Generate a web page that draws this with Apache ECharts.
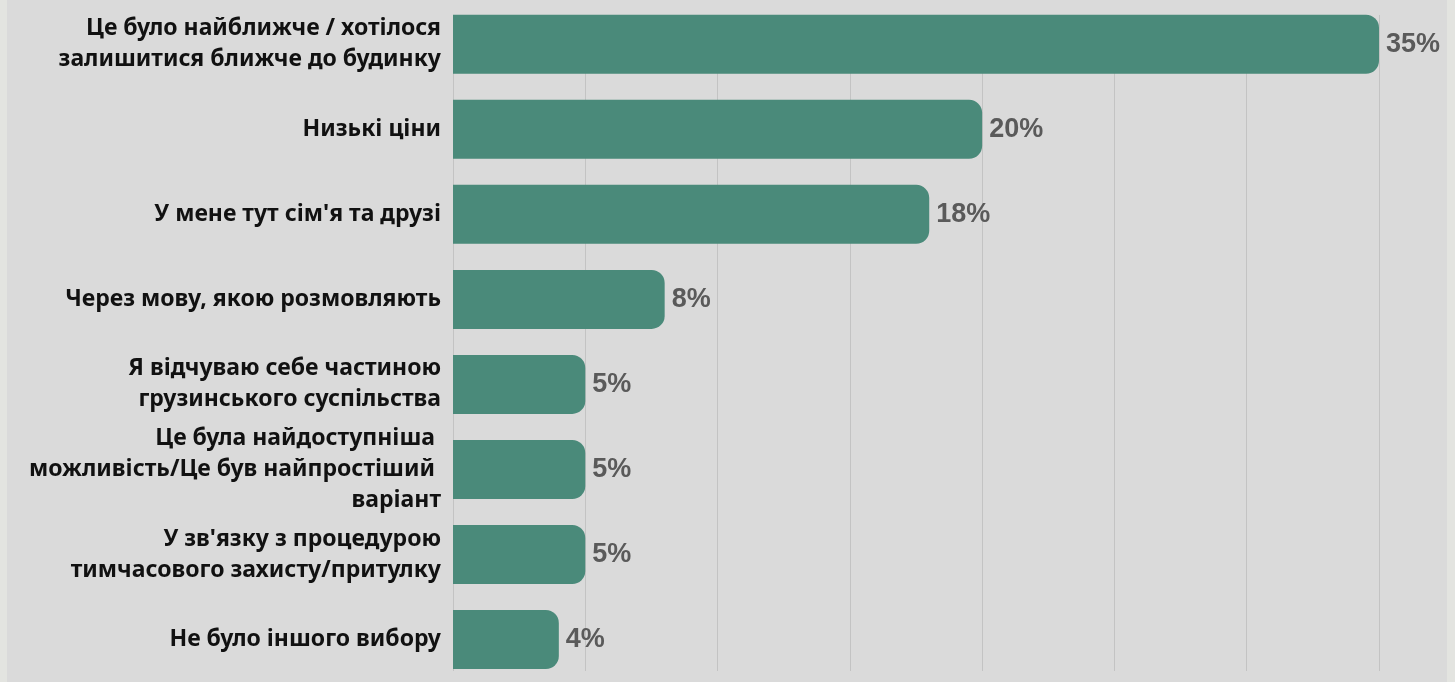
<!DOCTYPE html>
<html>
<head>
<meta charset="utf-8">
<script src="https://cdn.jsdelivr.net/npm/echarts@6/dist/echarts.min.js"></script>
<style>
  html, body { margin: 0; padding: 0; background: #e3e4e0; }
  #chart { position: absolute; left: 7px; top: 0; width: 1440px; height: 682px; background: #dadada; }
</style>
</head>
<body>
<div id="chart"></div>
<script>
// Reasons for choosing Georgia (share of respondents, %)
const categories = [
  'Це було найближче / хотілося\nзалишитися ближче до будинку',
  'Низькі ціни',
  "У мене тут сім'я та друзі",
  'Через мову, якою розмовляють',
  'Я відчуваю себе частиною\nгрузинського суспільства',
  'Це була найдоступніша \nможливість/Це був найпростіший \nваріант',
  "У зв'язку з процедурою\nтимчасового захисту/притулку",
  'Не було іншого вибору'
];
const values = [35, 20, 18, 8, 5, 5, 5, 4];
const gridTicks = [0, 5, 10, 15, 20, 25, 30, 35];

const chart = echarts.init(document.getElementById('chart'));
chart.setOption({
  backgroundColor: 'transparent',
  animation: false,
  grid: [
    { left: 446, right: 68, top: 1.8, height: 683 },
    { left: 446, right: 68, top: 15, bottom: 11 }
  ],
  xAxis: [
    { gridIndex: 0, type: 'value', min: 0, max: 35, interval: 5, show: false },
    {
      gridIndex: 1, type: 'value', min: gridTicks[0], max: gridTicks[gridTicks.length - 1], interval: 5,
      axisLine: { show: false }, axisTick: { show: false }, axisLabel: { show: false },
      splitLine: { show: true, lineStyle: { color: '#c3c3c3', width: 1 } }
    }
  ],
  yAxis: [
    {
      gridIndex: 0, type: 'category', data: categories, inverse: true,
      axisLine: { show: false }, axisTick: { show: false },
      axisLabel: {
        margin: 12, align: 'right', color: '#111',
        fontFamily: 'Noto Sans', fontWeight: 'bold', fontSize: 23, lineHeight: 31
      }
    },
    { gridIndex: 1, type: 'category', data: categories, show: false }
  ],
  series: [
    {
      type: 'bar', xAxisIndex: 1, yAxisIndex: 1, data: [], silent: true
    },
    {
      type: 'bar', xAxisIndex: 0, yAxisIndex: 0, data: values, barWidth: 59,
      itemStyle: { color: '#4a8a7a', borderRadius: [0, 13, 13, 0] },
      label: {
        show: true, position: 'right', distance: 7, formatter: '{c}%',
        color: '#5a5a5a', fontFamily: 'Liberation Sans', fontWeight: 'bold', fontSize: 27
      }
    }
  ]
});
</script>
</body>
</html>
